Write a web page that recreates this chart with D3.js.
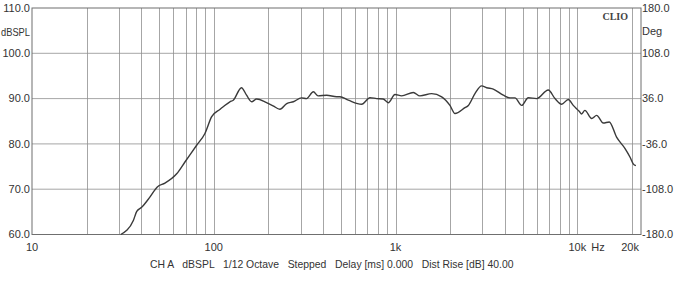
<!DOCTYPE html>
<html><head><meta charset="utf-8">
<script src="https://cdn.jsdelivr.net/npm/d3@7"></script>
<style>body{margin:0;background:#fff}svg{display:block}</style>
</head><body>
<svg id="c" width="693" height="281"></svg>
<script>
const freqs = [30.8,36.1,37.7,40.1,44.6,48.9,53.9,62.5,69.4,80.5,89.4,97.4,108,112.7,122.7,128,142,151.5,161.6,172,195,212,231,252,274,304,324,353,375,418,474,494,550,651,723,787,855,912,993,1080,1252,1362,1580,1794,1992,2123,2410,2514,2734,2976,3170,3448,3914,4259,4538,4941,5370,5975,6919,7535,8195,8916,9496,10240,10560,11000,11990,12770,13890,14980,16440,18270,19470,20300,21000];
const spl =   [60.0,63.1,65.1,66.0,68.3,70.5,71.35,73.4,76.0,79.7,82.3,86.0,87.6,88.2,89.3,89.65,92.4,90.75,89.3,89.9,89.1,88.4,87.65,88.9,89.3,90.15,90.0,91.5,90.6,90.75,90.4,90.4,89.65,88.75,90.2,90.0,89.9,89.1,90.9,90.6,91.35,90.6,91.1,90.4,88.5,86.7,88.0,88.5,91.1,92.8,92.4,92.1,90.75,90.15,90.15,88.5,90.2,90.0,91.9,90.0,88.75,89.8,88.5,87.2,86.6,87.4,85.6,86.3,84.6,84.85,81.5,79.0,77.1,75.6,75.2];
const dbTicks = [60,70,80,90,100,110];
const degTicks = [-180,-108,-36,36,108,180];
const freqLabels = [[10,"10"],[100,"100"],[1000,"1k"],[10000,"10k"],[20000,"20k"]];
const footer = "CH A   dBSPL   1/12 Octave   Stepped   Delay [ms] 0.000   Dist Rise [dB] 40.00";

const svg = d3.select("#c");
const x = d3.scaleLog().domain([10, 22400]).range([32, 641]);
const y = d3.scaleLinear().domain([60, 110]).range([234.5, 8]);
const yDeg = d3.scaleLinear().domain([-180, 180]).range([234.5, 8]);
const font = "Liberation Sans, Arial, sans-serif";
const txt = "#333";

// vertical grid
const vg = [];
for (let d = 10; d <= 10000; d *= 10) for (let m = 1; m <= 9; m++) { const f = d*m; if (f > 10 && f <= 20000) vg.push(f); }
svg.append("g").selectAll("line").data(vg).join("line")
  .attr("x1", d => Math.round(x(d))+0.5).attr("x2", d => Math.round(x(d))+0.5)
  .attr("y1", y(110)).attr("y2", y(60))
  .attr("stroke", "#8f8f8f").attr("stroke-width", 0.8);
// horizontal grid
svg.append("g").selectAll("line").data(dbTicks.slice(1,-1)).join("line")
  .attr("x1", x(10)).attr("x2", x(22400))
  .attr("y1", d => y(d)).attr("y2", d => y(d))
  .attr("stroke", "#8f8f8f").attr("stroke-width", 0.8);
// frame
svg.append("rect").attr("x", x(10)).attr("y", y(110))
  .attr("width", x(22400)-x(10)).attr("height", y(60)-y(110))
  .attr("fill", "none").attr("stroke", "#6f6f6f").attr("stroke-width", 1);

// left labels
svg.append("g").selectAll("text").data(dbTicks).join("text")
  .attr("x", 30).attr("y", d => y(d)).attr("dy", "0.35em")
  .attr("text-anchor", "end").attr("font-family", font).attr("font-size", 11).attr("fill", txt)
  .text(d => d.toFixed(1));
svg.append("text").attr("x", 1).attr("y", 32).attr("dy", "0.35em")
  .attr("textLength", 29).attr("lengthAdjust", "spacingAndGlyphs")
  .attr("font-family", font).attr("font-size", 11).attr("fill", txt).text("dBSPL");
// right labels
svg.append("g").selectAll("text").data(degTicks).join("text")
  .attr("x", 642).attr("y", d => yDeg(d)).attr("dy", "0.35em")
  .attr("font-family", font).attr("font-size", 11).attr("fill", txt)
  .text(d => (d < 0 ? "-" : "") + Math.abs(d).toFixed(1));
svg.append("text").attr("x", 642).attr("y", 31).attr("dy", "0.35em")
  .attr("font-family", font).attr("font-size", 11).attr("fill", txt).text("Deg");
// bottom labels
svg.append("g").selectAll("text").data(freqLabels).join("text")
  .attr("x", d => x(d[0]) - (d[0] === 20000 ? 2 : 0)).attr("y", 247).attr("dy", "0.35em")
  .attr("text-anchor", "middle").attr("font-family", font).attr("font-size", 11).attr("fill", txt)
  .text(d => d[1]);
svg.append("text").attr("x", 598).attr("y", 247).attr("dy", "0.35em").attr("text-anchor", "middle")
  .attr("font-family", font).attr("font-size", 11).attr("fill", txt).text("Hz");
svg.append("text").attr("x", 150).attr("y", 264).attr("dy", "0.35em")
  .attr("font-family", font).attr("font-size", 10.4).attr("fill", txt)
  .attr("xml:space", "preserve").style("white-space", "pre").text(footer);
// CLIO
svg.append("text").attr("x", 628).attr("y", 16).attr("dy", "0.35em").attr("text-anchor", "end")
  .attr("font-family", "Liberation Serif, Times New Roman, serif").attr("font-weight", "bold")
  .attr("font-size", 10).attr("fill", "#444").text("CLIO");

// curve
const line = d3.line().x((d,i) => x(freqs[i])).y(d => y(d)).curve(d3.curveMonotoneX);
svg.append("path").datum(spl).attr("d", line)
  .attr("fill", "none").attr("stroke", "#3a3a3a").attr("stroke-width", 1.4);
</script>
</body></html>
